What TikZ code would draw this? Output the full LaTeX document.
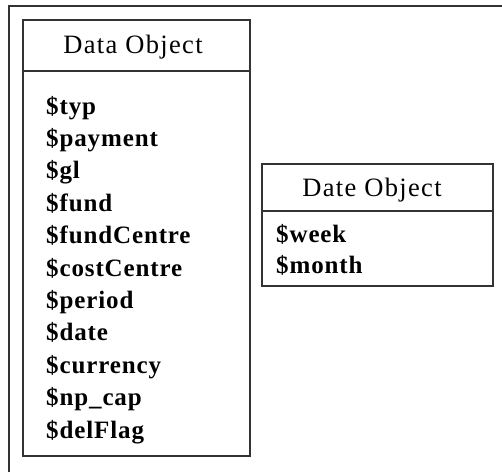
\documentclass[tikz,border=0pt]{standalone}
\usepackage{fontspec}
\setmainfont{Liberation Serif}
\newfontfamily\headfont[LetterSpace=5]{Liberation Serif}
\newfontfamily\fieldfont[LetterSpace=3.5]{Liberation Serif}
\definecolor{linegray}{HTML}{333333}
\begin{document}
\begin{tikzpicture}[x=1pt,y=-1pt,
  frame/.style={draw=linegray,line width=1.6pt},
  head/.style={inner sep=0pt,anchor=base,font=\headfont\fontsize{26.5}{30}\selectfont},
  field/.style={inner sep=0pt,anchor=base west,font=\fieldfont\fontsize{25}{30}\selectfont\bfseries}]
\useasboundingbox (0,0) rectangle (502,472);
\fill[white] (0,0) rectangle (502,472);
% outer window edges
\draw[frame] (9,472) -- (9,6) -- (502,6);
% Data Object class box
\draw[frame] (23,20) rectangle (250,456);
\draw[frame] (23,71) -- (250,71);
\node[head] (dtitle) at (133,53) {Data Object};
\foreach \t [count=\i from 0] in {\$typ,\$payment,\$gl,\$fund,\$fundCentre,\$costCentre,\$period,\$date,\$currency,\$np\_cap,\$delFlag}
  \node[field] (f\i) at (46,{114+32.4*\i}) {\t};
% Date Object class box
\draw[frame] (262,164) rectangle (493,286);
\draw[frame] (262,211) -- (493,211);
\node[head] (etitle) at (372,196) {Date Object};
\node[field] (week) at (276,242) {\$week};
\node[field] (month) at (276,273) {\$month};
\end{tikzpicture}
\end{document}
